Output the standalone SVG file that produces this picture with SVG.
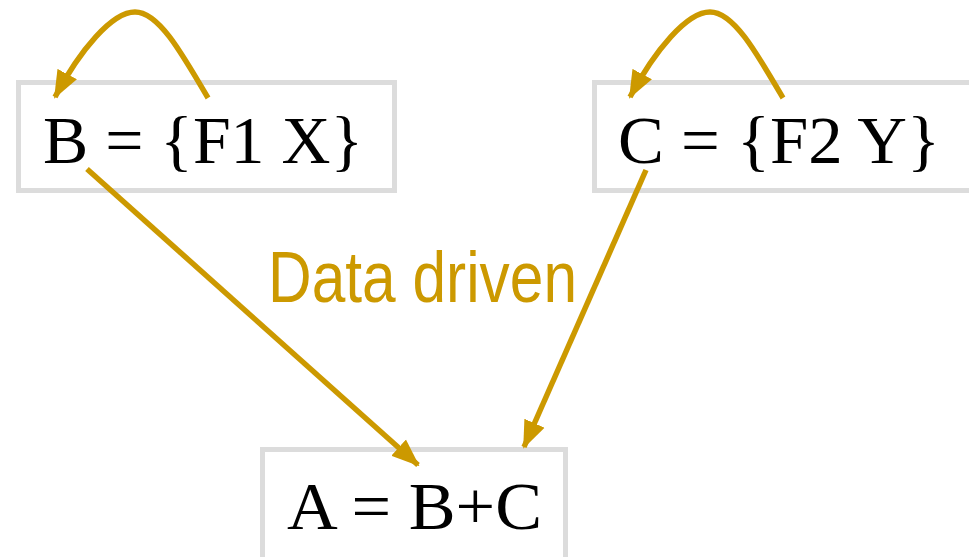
<svg xmlns="http://www.w3.org/2000/svg" width="969" height="557" viewBox="0 0 969 557">
<defs>
<marker id="ah" markerUnits="userSpaceOnUse" markerWidth="28" markerHeight="24" refX="26" refY="11" orient="auto" viewBox="0 0 28 22">
<path d="M0,0 L28,11 L0,22 z" fill="#CC9900"/>
</marker>
<style>
.box{fill:#fff;stroke:#dcdcdc;stroke-width:5;}
.t{font-family:"Liberation Serif","Times New Roman",serif;font-size:68px;fill:#000;}
.c{fill:none;stroke:#CC9900;stroke-width:5.5;marker-end:url(#ah);}
.lbl{font-family:"Liberation Sans Narrow","Arial Narrow","Liberation Sans",sans-serif;font-size:72px;fill:#CC9900;}
</style>
</defs>
<rect width="969" height="557" fill="#fff"/>
<g id="nodeB">
<rect class="box" x="18.5" y="82.5" width="376" height="108"/>
<text class="t" x="43" y="163" textLength="320" lengthAdjust="spacingAndGlyphs">B = {F1 X}</text>
</g>
<g id="nodeC">
<rect class="box" x="594.5" y="82.5" width="400" height="108"/>
<text class="t" x="618" y="163" textLength="322" lengthAdjust="spacingAndGlyphs">C = {F2 Y}</text>
</g>
<g id="nodeA">
<rect class="box" x="262.5" y="449.5" width="303" height="130"/>
<text class="t" x="287" y="529" textLength="255" lengthAdjust="spacingAndGlyphs">A = B+C</text>
</g>
<g id="label">
<text class="lbl" x="268" y="302" textLength="309" lengthAdjust="spacingAndGlyphs">Data driven</text>
</g>
<g id="connectors">
<path class="c" d="M208,98 C180,50 158,12 135,12 C112,12 80,50 55,97"/>
<path class="c" d="M783,98 C755,50 733,12 710,12 C687,12 655,50 630,97"/>
<path class="c" d="M87,169 L418,465"/>
<path class="c" d="M646,170 L524,447"/>
</g>
</svg>
